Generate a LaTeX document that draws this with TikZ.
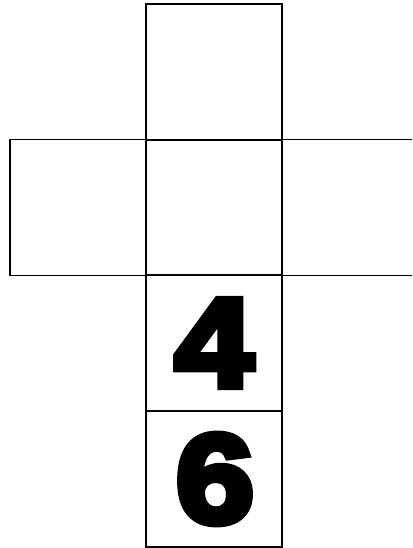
\documentclass[tikz,border=0pt]{standalone}
\usepackage{fontspec}
\newfontfamily\digitfont[FakeBold=6,FakeStretch=1.12]{Liberation Sans Bold}
\begin{document}
\begin{tikzpicture}[x=1pt,y=-1pt,
  cell/.style={draw=black,line width=1.6pt,minimum width=136pt,minimum height=136pt,inner sep=0pt,outer sep=0pt},
  digit/.style={font=\digitfont\fontsize{126}{126}\selectfont,inner sep=0pt}]
\useasboundingbox (0,0) rectangle (412,548);
\clip (0,0) rectangle (412,548);
\node[cell] (top) at (214,72) {};
\node[cell] (left) at (78,207.5) {};
\node[cell] (center) at (214,207.5) {};
\node[cell] (right) at (350,207.5) {};
\node[cell] (four) at (214,343) {};
\node[cell] (six) at (214,479) {};
\node[digit] at (four.center) {4};
\node[digit] at ([xshift=1pt]six.center) {6};
\end{tikzpicture}
\end{document}
